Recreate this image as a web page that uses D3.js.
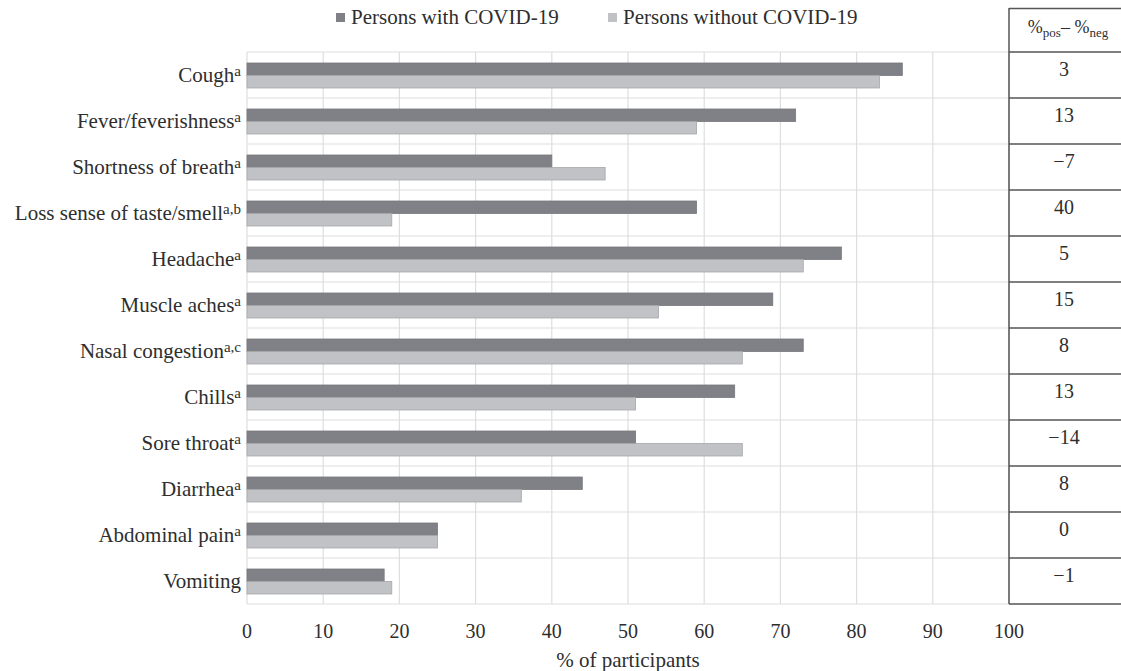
<!DOCTYPE html>
<html><head><meta charset="utf-8"><script src="https://cdn.jsdelivr.net/npm/d3@7"></script></head>
<body style="margin:0">
<svg id="chart" width="1121" height="671"></svg>
<script>
// symptom names and their footnote marks
const symptoms = ["Cough", "Fever/feverishness", "Shortness of breath", "Loss sense of taste/smell",
  "Headache", "Muscle aches", "Nasal congestion", "Chills", "Sore throat", "Diarrhea",
  "Abdominal pain", "Vomiting"];
const notes = ["a", "a", "a", "a,b", "a", "a", "a,c", "a", "a", "a", "a", ""];
const withCovid = [86, 72, 40, 59, 78, 69, 73, 64, 51, 44, 25, 18];
const withoutCovid = [83, 59, 47, 19, 73, 54, 65, 51, 65, 36, 25, 19];
const diffs = ["3", "13", "\u22127", "40", "5", "15", "8", "13", "\u221214", "8", "0", "\u22121"];
const xTicks = [0, 10, 20, 30, 40, 50, 60, 70, 80, 90, 100];
const seriesNames = ["Persons with COVID-19", "Persons without COVID-19"];

var margin = { top: 52, left: 247, right: 112, bottom: 67 },
    width = 1121 - margin.left - margin.right,
    height = 671 - margin.top - margin.bottom;

var svg = d3.select("#chart");
var g = svg.append("g").attr("transform", "translate(" + margin.left + "," + margin.top + ")");

var x = d3.scaleLinear().domain([0, 100]).range([0, width]);
var y = d3.scaleBand().domain(symptoms).range([0, height]);

var darkFill = "#808186", darkStroke = "#77787c";
var lightFill = "#c1c2c5", lightStroke = "#a6a7aa";
var textCol = "#2e2e2e";

// every text gets its font inline
function styleText(sel, size) {
  return sel.attr("font-family", "Liberation Serif, Times New Roman, Times")
    .style("font-family", "'Liberation Serif', 'Times New Roman', Times", "important")
    .style("font-size", size + "px")
    .style("fill", textCol);
}

// grid
g.selectAll(".vgrid")
  .data(xTicks)
  .enter().append("line")
  .attr("x1", d => x(d)).attr("x2", d => x(d))
  .attr("y1", 0).attr("y2", height)
  .attr("stroke", "#dedede").attr("stroke-width", 1.2);

g.selectAll(".hgrid")
  .data(symptoms.concat(["end"]))
  .enter().append("line")
  .attr("x1", 0).attr("x2", width)
  .attr("y1", (d, i) => i * y.step()).attr("y2", (d, i) => i * y.step())
  .attr("stroke", "#dedede").attr("stroke-width", 1.2);

// bars
var barH = 12.5, barOff = 11;
g.selectAll(".bar-pos")
  .data(withCovid)
  .enter().append("rect")
  .attr("x", x(0))
  .attr("y", (d, i) => y(symptoms[i]) + barOff)
  .attr("width", d => x(d) - x(0))
  .attr("height", barH)
  .attr("fill", darkFill).attr("stroke", darkStroke).attr("stroke-width", 0.8);

g.selectAll(".bar-neg")
  .data(withoutCovid)
  .enter().append("rect")
  .attr("x", x(0))
  .attr("y", (d, i) => y(symptoms[i]) + barOff + barH)
  .attr("width", d => x(d) - x(0))
  .attr("height", barH)
  .attr("fill", lightFill).attr("stroke", lightStroke).attr("stroke-width", 0.8);

// category labels with superscripts
var labels = g.selectAll(".cat")
  .data(symptoms)
  .enter().append("text")
  .attr("x", -6)
  .attr("y", d => y(d) + barOff + barH + 6)
  .attr("text-anchor", "end");
styleText(labels, 21);
labels.append("tspan").text(d => d);
labels.append("tspan")
  .attr("dy", -6)
  .style("font-size", "15px")
  .text((d, i) => notes[i]);

// x axis tick labels
var ticks = g.selectAll(".xtick")
  .data(xTicks)
  .enter().append("text")
  .attr("x", d => x(d))
  .attr("y", height + 34)
  .attr("text-anchor", "middle")
  .text(d => d);
styleText(ticks, 20);

styleText(g.append("text")
  .attr("x", x(50))
  .attr("y", height + 63)
  .attr("text-anchor", "middle")
  .text("% of participants"), 21);

// legend
var legend = svg.append("g");
var legendX = [336, 608];
seriesNames.forEach(function(name, i) {
  legend.append("rect")
    .attr("x", legendX[i]).attr("y", 13)
    .attr("width", 9).attr("height", 9)
    .attr("fill", i == 0 ? darkFill : lightFill);
  styleText(legend.append("text")
    .attr("x", legendX[i] + 15).attr("y", 24)
    .text(name), 21);
});

// difference table
var tx = margin.left + width, tRight = 1125;
var table = svg.append("g");
table.append("line")
  .attr("x1", tx).attr("x2", tx).attr("y1", 8).attr("y2", margin.top + height)
  .attr("stroke", "#555").attr("stroke-width", 1.5);
table.append("line")
  .attr("x1", tx).attr("x2", tRight).attr("y1", 8.5).attr("y2", 8.5)
  .attr("stroke", "#555").attr("stroke-width", 1.5);
table.selectAll(".row-line")
  .data(symptoms.concat(["end"]))
  .enter().append("line")
  .attr("x1", tx).attr("x2", tRight)
  .attr("y1", (d, i) => margin.top + i * y.step())
  .attr("y2", (d, i) => margin.top + i * y.step())
  .attr("stroke", "#555").attr("stroke-width", 1.5);

var head = table.append("text")
  .attr("x", tx + 59).attr("y", 33)
  .attr("text-anchor", "middle");
styleText(head, 18);
head.append("tspan").text("%");
head.append("tspan").attr("dy", 4).style("font-size", "13px").text("pos");
head.append("tspan").attr("dy", -4).text("\u2013 %");
head.append("tspan").attr("dy", 4).style("font-size", "13px").text("neg");

var diffText = table.selectAll(".diff")
  .data(diffs)
  .enter().append("text")
  .attr("x", tx + 55)
  .attr("y", (d, i) => margin.top + y(symptoms[i]) + 24)
  .attr("text-anchor", "middle")
  .text(d => d);
styleText(diffText, 20);
</script>
</body>
</html>
